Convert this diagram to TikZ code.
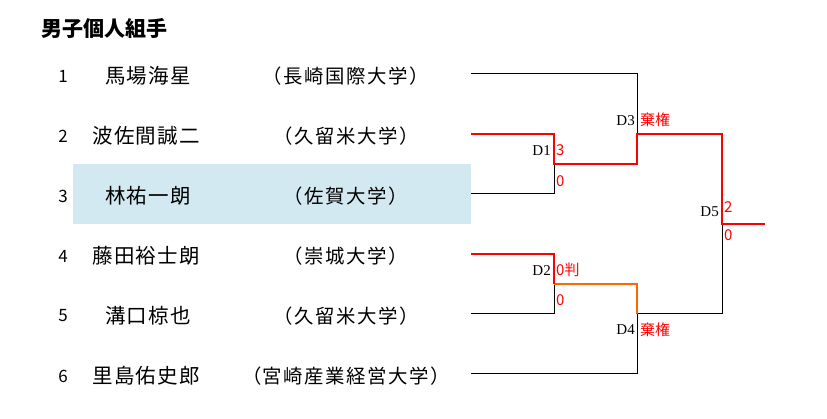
\documentclass[tikz,border=0pt]{standalone}
\usepackage{fontspec}
\setmainfont{Noto Sans CJK JP}
\newfontfamily\namefont[LetterSpace=6]{Noto Sans CJK JP}
\newfontfamily\univfont[LetterSpace=8]{Noto Sans CJK JP}
\newfontfamily\serifD{Liberation Serif}
\definecolor{hl}{RGB}{210,233,241}
\definecolor{winred}{RGB}{255,0,0}
\definecolor{winorange}{RGB}{255,102,0}
\begin{document}
\begin{tikzpicture}[x=1pt,y=-1pt,
  num/.style={inner sep=0pt,font=\fontsize{17}{17}\selectfont},
  pname/.style={inner sep=0pt,font=\namefont\fontsize{20.5}{21}\selectfont},
  univ/.style={inner sep=0pt,font=\univfont\fontsize{19.4}{20}\selectfont},
  dlab/.style={inner sep=0pt,anchor=east,font=\serifD\fontsize{15}{15}\selectfont},
  score/.style={inner sep=0pt,anchor=west,text=winred,font=\fontsize{15}{15}\selectfont},
  thin/.style={draw=black,line width=1pt},
  win/.style={draw=winred,line width=2.8pt,line join=miter},
  winor/.style={draw=winorange,line width=2pt}]
\useasboundingbox (0,0) rectangle (827,419);
\fill[hl] (73,164) rectangle (471,224);
\node[inner sep=0pt,anchor=west,font=\bfseries\fontsize{21}{21}\selectfont] (title) at (41,29) {男子個人組手};
% players
\node[num] (n1) at (63,76) {1};
\node[num] (n2) at (63,136) {2};
\node[num] (n3) at (63,196) {3};
\node[num] (n4) at (63,256) {4};
\node[num] (n5) at (63,316) {5};
\node[num] (n6) at (63,376) {6};
\node[pname] (p1) at (148,76) {馬場海星};
\node[pname] (p2) at (146,136) {波佐間誠二};
\node[pname] (p3) at (148,196) {林祐一朗};
\node[pname] (p4) at (146,256) {藤田裕士朗};
\node[pname] (p5) at (148,316) {溝口椋也};
\node[pname] (p6) at (146,376) {里島佑史郎};
\node[univ] (u1) at (346,76) {（長崎国際大学）};
\node[univ] (u2) at (346,136) {（久留米大学）};
\node[univ] (u3) at (346,196) {（佐賀大学）};
\node[univ] (u4) at (346,256) {（崇城大学）};
\node[univ] (u5) at (346,316) {（久留米大学）};
\node[univ] (u6) at (346,376) {（宮崎産業経営大学）};
% bracket coordinates
\coordinate (e1) at (471,74);
\coordinate (e2) at (471,134);
\coordinate (e3) at (471,194);
\coordinate (e4) at (471,254);
\coordinate (e5) at (471,314);
\coordinate (e6) at (471,374);
\coordinate (d1) at (554,164);
\coordinate (d2) at (554,284);
\coordinate (d3) at (637,134);
\coordinate (d4) at (637,314);
\coordinate (d5) at (722,224);
\coordinate (fin) at (765,224);
% black lines
\draw[thin] (e1) -| (d3);
\draw[thin] (e3) -| (d1);
\draw[thin] (e5) -| (d2);
\draw[thin] (e6) -| (d4);
\draw[thin] (d4) -| (d5);
% orange
\draw[winor] (d2) -| (d4);
% red
\draw[win] (e2) -| (d1) -| (d3) -| (d5) -- (fin);
\draw[win] (e4) -| (d2);
% labels
\node[dlab] (l1) at (551,151) {D1};
\node[dlab] (l2) at (551,271) {D2};
\node[dlab] (l3) at (635,121) {D3};
\node[dlab] (l4) at (635,330) {D4};
\node[dlab] (l5) at (719,212) {D5};
\node[score] (s1a) at (556,150) {3};
\node[score] (s1b) at (556,181) {0};
\node[score] (s2a) at (556,270) {0判};
\node[score] (s2b) at (556,300) {0};
\node[score] (s3) at (640,120) {棄権};
\node[score] (s4) at (640,330) {棄権};
\node[score] (s5a) at (724,207) {2};
\node[score] (s5b) at (724,235) {0};
\end{tikzpicture}
\end{document}
